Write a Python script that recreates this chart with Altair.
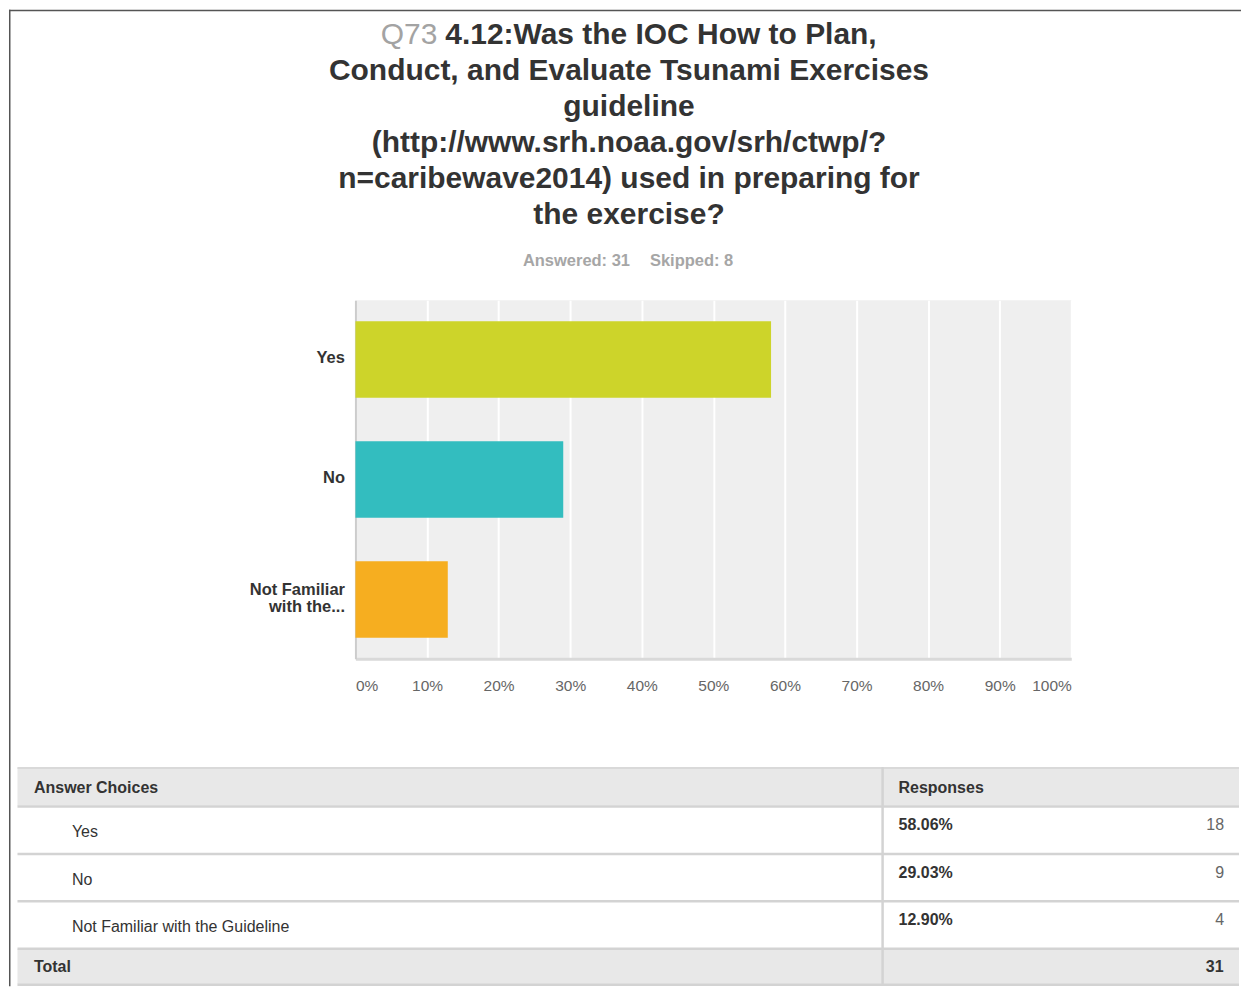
import altair as alt
import pandas as pd

# ---------------- data ----------------
categories = ["Yes", "No", "Not Familiar with the Guideline"]
percents = [0.5806, 0.2903, 0.1290]
counts = [18, 9, 4]
total_count = 31
answered = 31
skipped = 8
x_ticks = [0.0, 0.1, 0.2, 0.3, 0.4, 0.5, 0.6, 0.7, 0.8, 0.9, 1.0]

title_number = "Q73"
title_first = "4.12:Was the IOC How to Plan,"
title_rest = [
    "Conduct, and Evaluate Tsunami Exercises",
    "guideline",
    "(http://www.srh.noaa.gov/srh/ctwp/?",
    "n=caribewave2014) used in preparing for",
    "the exercise?",
]
table_header = ["Answer Choices", "Responses"]
total_label = "Total"

# ---------------- styles ----------------
bar_colors = ["#cdd42a", "#33bdbf", "#f6ae20"]
FONT = "Liberation Sans"
DARK = "#333333"
GREY_TEXT = "#666666"
LINE = "#d3d3d3"
BAND = "#e8e8e8"

# page position of the plot area's top-left corner; layout helpers
OX, OY = 355, 299
W, H = 717, 359


def px(x):
    return x - OX


def py(y):
    return y - OY


one = pd.DataFrame({"k": [0]})


def text_at(text, x, y, size, color, weight="normal", align="center",
            baseline="alphabetic", line_height=None):
    props = dict(text=text, font=FONT, fontSize=size, color=color,
                 fontWeight=weight, align=align, baseline=baseline)
    if line_height is not None:
        props["lineHeight"] = line_height
    return alt.Chart(one).mark_text(**props).encode(
        x=alt.value(px(x)), y=alt.value(py(y)))


def hline(y, x1, x2, color, width):
    return alt.Chart(one).mark_rule(color=color, strokeWidth=width).encode(
        y=alt.value(py(y)), x=alt.value(px(x1)), x2=alt.value(px(x2)))


def vline(x, y1, y2, color, width):
    return alt.Chart(one).mark_rule(color=color, strokeWidth=width).encode(
        x=alt.value(px(x)), y=alt.value(py(y1)), y2=alt.value(py(y2)))


def band_rect(y1, y2, x1, x2, color):
    return alt.Chart(one).mark_rect(color=color).encode(
        x=alt.value(px(x1)), x2=alt.value(px(x2)),
        y=alt.value(py(y1)), y2=alt.value(py(y2)))


# ---------------- bar chart ----------------
bars_df = pd.DataFrame({"choice": categories, "pct": percents})

long_label_test = "datum.value == 'Not Familiar with the Guideline'"

bars = alt.Chart(bars_df).mark_bar().encode(
    x=alt.X("pct:Q",
            scale=alt.Scale(domain=[0, 1], nice=False),
            axis=alt.Axis(values=x_ticks, format=".0%", title=None,
                          grid=True, gridColor="white", gridWidth=2,
                          ticks=False, domainColor="#d9d9d9", domainWidth=3,
                          labelFont=FONT, labelFontSize=15.5,
                          labelColor=GREY_TEXT, labelPadding=20,
                          labelFlush=True)),
    y=alt.Y("choice:N", sort=categories,
            scale=alt.Scale(domain=categories, paddingInner=0.362,
                            paddingOuter=0.1745),
            axis=alt.Axis(title=None, ticks=False, grid=False,
                          domainColor="#cccccc", domainWidth=2,
                          labelFont=FONT, labelFontSize=16.5,
                          labelFontWeight="bold", labelColor=DARK,
                          labelPadding=11, labelLimit=300,
                          labelLineHeight=18,
                          labelOffset={"condition": {"test": long_label_test,
                                                     "value": -10},
                                       "value": -1.5},
                          labelExpr=long_label_test + " ? ['Not Familiar', 'with the...'] : datum.value")),
    color=alt.Color("choice:N", scale=alt.Scale(domain=categories,
                                                range=bar_colors),
                    legend=None),
)

# ---------------- titles ----------------
t_num = text_at(title_number, 437, 41.8, 30, "#a3a3a3", align="right")
t_first = text_at(title_first, 445, 41.8, 30, DARK, weight="bold", align="left")
t_rest = text_at(title_rest, 629, 78.4, 30, DARK, weight="bold",
                 line_height=36)
t_answered = text_at(f"Answered: {answered}", 630, 264.8, 16.5, "#a6a6a6",
                     weight="bold", align="right")
t_skipped = text_at(f"Skipped: {skipped}", 650, 264.8, 16.5, "#a6a6a6",
                    weight="bold", align="left")

# ---------------- page border ----------------
border_top = hline(8.75, 8, 1242, "#555555", 1.5)
border_left = vline(8.75, 8, 986, "#555555", 1.5)

# ---------------- table ----------------
TL, TS, TR = 16.5, 883, 1240
table_df = pd.DataFrame({
    "choice": categories,
    "pct_text": [f"{p * 100:.2f}%" for p in percents],
    "count": counts,
})
rows_scale = alt.Scale(domain=categories, range=[py(806), py(948.5)],
                       paddingInner=0, paddingOuter=0)
tbase = alt.Chart(table_df)

header_band = band_rect(767, 805, TL, TR, BAND)
total_band = band_rect(949, 984, TL, TR, BAND)
line_top = hline(767.5, TL, TR, "#d9d9d9", 2)
line_header = hline(806, TL, TR, LINE, 2.5)
line_bottom = hline(984.5, TL, TR, LINE, 2.5)
line_split = vline(TS, 766.5, 985.5, LINE, 2.5)

row_lines = tbase.mark_rule(color=LINE, strokeWidth=2.5).encode(
    y=alt.Y("choice:N", sort=categories, scale=rows_scale, axis=None,
            bandPosition=1),
    x=alt.value(px(TL)), x2=alt.value(px(TR)))
row_labels = tbase.mark_text(align="left", baseline="middle", font=FONT,
                             fontSize=16, color=DARK, dy=2).encode(
    y=alt.Y("choice:N", sort=categories, scale=rows_scale, axis=None),
    x=alt.value(px(71)), text="choice:N")
row_pcts = tbase.mark_text(align="left", baseline="middle", font=FONT,
                           fontSize=16, fontWeight="bold", color=DARK,
                           dy=-5).encode(
    y=alt.Y("choice:N", sort=categories, scale=rows_scale, axis=None),
    x=alt.value(px(899)), text="pct_text:N")
row_counts = tbase.mark_text(align="right", baseline="middle", font=FONT,
                             fontSize=16, color=GREY_TEXT, dy=-5).encode(
    y=alt.Y("choice:N", sort=categories, scale=rows_scale, axis=None),
    x=alt.value(px(1225)), text="count:Q")

h_choices = text_at(table_header[0], 33, 787.3, 16, DARK, weight="bold",
                    align="left", baseline="middle")
h_resp = text_at(table_header[1], 899, 787.3, 16, DARK, weight="bold",
                 align="left", baseline="middle")
tot_label = text_at(total_label, 33, 966.7, 16, DARK, weight="bold",
                    align="left", baseline="middle")
tot_value = text_at(str(total_count), 1224.5, 966.7, 16, DARK, weight="bold",
                    align="right", baseline="middle")

chart = alt.layer(
    border_top, border_left,
    header_band, total_band, line_top, line_header, line_bottom,
    row_lines, line_split,
    bars,
    t_num, t_first, t_rest, t_answered, t_skipped,
    row_labels, row_pcts, row_counts,
    h_choices, h_resp, tot_label, tot_value,
).resolve_scale(
    x="independent", y="independent", color="independent"
).properties(
    width=W, height=H, padding=0, background="white"
).configure_view(fill="#efefef", stroke=None)

chart.save("out.html", embed_options={"renderer": "svg", "actions": False})
